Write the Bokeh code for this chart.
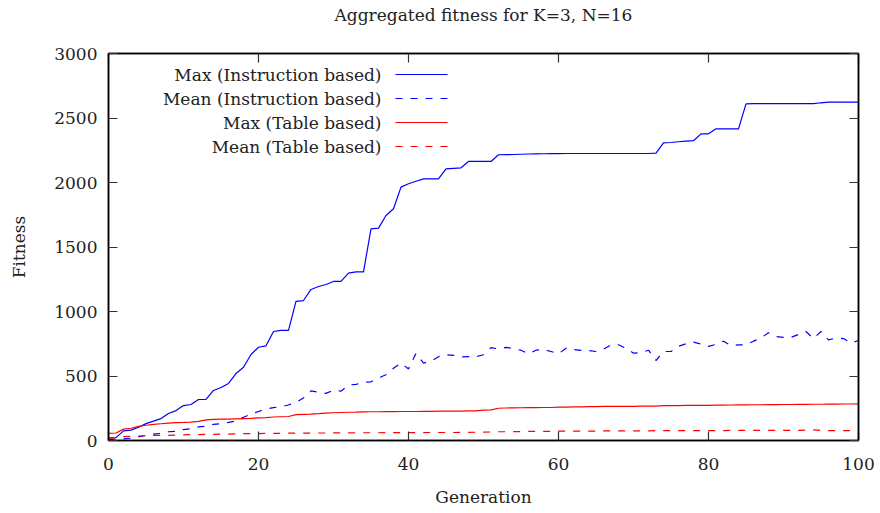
from bokeh.plotting import figure
from bokeh.models import Range1d, FixedTicker, LinearAxis, Label, Arrow, CustomLabelingPolicy
from bokeh.embed import file_html
from bokeh.resources import INLINE

generation = list(range(101))

max_instr = [
    20, 22, 75, 80, 103, 131, 150, 170, 209, 232,
    271, 279, 318, 318, 388, 411, 442, 519, 568, 667,
    723, 734, 845, 853, 853, 1078, 1085, 1171, 1194, 1209,
    1233, 1233, 1297, 1307, 1307, 1641, 1646, 1744, 1796, 1964,
    1990, 2010, 2028, 2028, 2028, 2106, 2110, 2114, 2163, 2163,
    2163, 2163, 2215, 2216, 2217, 2219, 2221, 2222, 2223, 2224,
    2224, 2225, 2225, 2225, 2225, 2225, 2225, 2225, 2225, 2225,
    2225, 2225, 2225, 2227, 2307, 2310, 2316, 2321, 2324, 2377,
    2377, 2416, 2416, 2416, 2416, 2610, 2612, 2612, 2612, 2612,
    2612, 2612, 2612, 2612, 2612, 2618, 2623, 2623, 2623, 2623,
    2623]

mean_instr = [
    8, 10, 13, 18, 28, 40, 50, 55, 68, 72,
    85, 92, 105, 110, 125, 130, 140, 152, 180, 205,
    225, 245, 255, 262, 275, 295, 330, 385, 375, 365,
    390, 382, 430, 435, 450, 455, 485, 510, 560, 600,
    555, 675, 600, 615, 650, 665, 660, 648, 650, 650,
    665, 720, 710, 722, 712, 700, 672, 700, 705, 690,
    672, 715, 705, 698, 698, 690, 708, 740, 742, 715,
    677, 680, 700, 620, 690, 690, 730, 750, 762, 748,
    730, 745, 770, 735, 742, 742, 770, 795, 835, 805,
    800, 800, 822, 845, 790, 845, 780, 795, 790, 755,
    775]

max_table = [
    55, 58, 88, 95, 110, 118, 125, 130, 135, 138,
    140, 143, 148, 160, 163, 165, 166, 168, 170, 172,
    175, 178, 182, 184, 186, 200, 203, 205, 208, 212,
    215, 217, 219, 220, 222, 223, 223, 224, 224, 225,
    225, 225, 226, 226, 227, 227, 228, 228, 229, 230,
    235, 238, 250, 252, 253, 254, 255, 255, 256, 256,
    258, 259, 260, 261, 262, 263, 264, 264, 265, 265,
    265, 266, 266, 266, 271, 271, 271, 272, 272, 273,
    273, 274, 274, 275, 276, 276, 277, 277, 278, 278,
    279, 279, 280, 280, 281, 281, 282, 282, 283, 283,
    284]

mean_table = [
    10, 25, 30, 33, 35, 37, 39, 40, 40, 42,
    44, 45, 46, 47, 48, 49, 50, 52, 53, 53,
    54, 55, 55, 56, 57, 57, 57, 58, 58, 58,
    59, 59, 59, 60, 60, 60, 60, 61, 61, 61,
    61, 61, 61, 62, 62, 62, 62, 63, 63, 64,
    65, 66, 68, 68, 69, 69, 70, 70, 71, 71,
    72, 72, 72, 73, 73, 73, 74, 74, 74, 75,
    75, 75, 75, 76, 76, 76, 76, 77, 77, 77,
    77, 77, 77, 78, 78, 78, 78, 78, 78, 78,
    78, 78, 79, 80, 82, 78, 76, 76, 76, 76,
    76]

x_ticks = [0, 20, 40, 60, 80, 100]
y_ticks = [0, 500, 1000, 1500, 2000, 2500, 3000]

title_text = "Aggregated fitness for K=3, N=16"
series_labels = ["Max (Instruction based)", "Mean (Instruction based)",
                 "Max (Table based)", "Mean (Table based)"]
series_data = [max_instr, mean_instr, max_table, mean_table]
series_colors = ["#0000ff", "#0000ff", "#ff0000", "#ff0000"]
series_dash = ["solid", "7 8", "solid", "7 8"]

FONT = "DejaVu Serif"
FS = "17px"

p = figure(width=880, height=513, output_backend="svg", toolbar_location=None,
           x_range=Range1d(0, 100), y_range=Range1d(0, 3000),
           min_border_left=108, min_border_right=22, min_border_top=53,
           min_border_bottom=73)

p.grid.visible = False
p.outline_line_color = "black"
p.outline_line_width = 1.5
p.background_fill_color = "white"
p.border_fill_color = "white"

no_labels = CustomLabelingPolicy(
    code="for (let i = 0; i < indices.size; i++) { indices.unset(i) } return indices")

def style_axis(ax, ticks, show_labels):
    ax.ticker = FixedTicker(ticks=ticks)
    ax.minor_tick_line_color = None
    ax.major_tick_in = 9
    ax.major_tick_out = 0
    ax.major_tick_line_color = "#333333"
    ax.major_tick_line_width = 1.2
    ax.axis_line_color = "black"
    ax.axis_line_width = 1.5
    ax.major_label_text_font = FONT
    ax.major_label_text_color = "#222222"
    ax.axis_label_text_font = FONT
    ax.axis_label_text_font_size = FS
    ax.axis_label_text_font_style = "normal"
    ax.axis_label_text_color = "#222222"
    if show_labels:
        ax.major_label_text_font_size = FS
    else:
        ax.major_label_text_font_size = "1px"
        ax.major_label_policy = no_labels
        ax.major_label_standoff = 0

style_axis(p.xaxis[0], x_ticks, True)
style_axis(p.yaxis[0], y_ticks, True)
p.xaxis[0].major_label_standoff = 17
p.yaxis[0].major_label_standoff = 11
p.xaxis[0].axis_label = "Generation"
p.yaxis[0].axis_label = "Fitness"
p.xaxis[0].axis_label_standoff = 14
p.yaxis[0].axis_label_standoff = 22

# top mirror axis carries the chart title as its label
top_axis = LinearAxis(axis_label=title_text)
style_axis(top_axis, x_ticks, False)
top_axis.axis_label_standoff = 25
p.add_layout(top_axis, "above")
right_axis = LinearAxis()
style_axis(right_axis, y_ticks, False)
p.add_layout(right_axis, "right")

for data, col, dash in zip(series_data, series_colors, series_dash):
    p.line(generation, data, line_color=col, line_width=1.2, line_dash=dash)

# key (text right-aligned, sample to the right), in frame screen units
key_text_right = 273
key_line_start = 287
key_line_end = 339
key_top = 366
key_step = 24
for i, (lab, col, dash) in enumerate(zip(series_labels, series_colors, series_dash)):
    yy = key_top - i * key_step
    p.add_layout(Label(x=key_text_right, y=yy, x_units="screen", y_units="screen",
                       text=lab, text_align="right", text_baseline="middle",
                       text_font=FONT, text_font_size=FS, text_color="#222222"))
    p.add_layout(Arrow(x_start=key_line_start, y_start=yy, x_end=key_line_end, y_end=yy,
                       start_units="screen", end_units="screen", end=None,
                       line_color=col, line_width=1.2, line_dash=dash))

open("out.html", "w").write(file_html(p, INLINE))
